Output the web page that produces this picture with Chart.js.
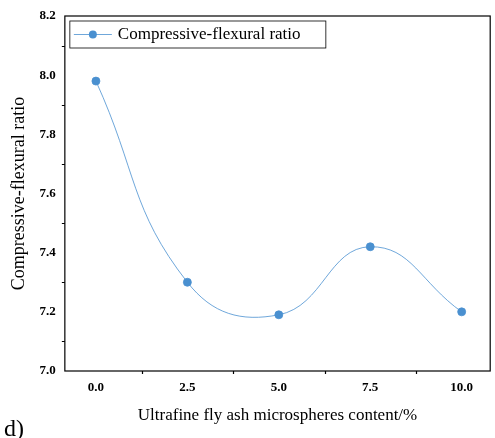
<!DOCTYPE html>
<html>
<head>
<meta charset="utf-8">
<script src="https://cdn.jsdelivr.net/npm/chart.js@4"></script>
<style>
html,body{margin:0;padding:0;background:#fff;}
#wrap{position:relative;width:495px;height:438px;}
</style>
</head>
<body>
<div id="wrap"><canvas id="c" width="495" height="438"></canvas></div>
<script>
// data
var contents = [0, 2.5, 5, 7.5, 10];
var ratios = [7.98, 7.30, 7.19, 7.42, 7.20];
var xTicks = [0, 2.5, 5, 7.5, 10];
var seriesName = 'Compressive-flexural ratio';

var FONT = '"Liberation Serif", "Times New Roman", serif';
var BLUE = '#4a90d0';

// minor ticks, box frame, legend, panel letter
var extras = {
    id: 'extras',
    afterDraw: function(chart){
        var ctx = chart.ctx, a = chart.chartArea;
        var xs = chart.scales.x, ys = chart.scales.y;
        ctx.save();
        ctx.strokeStyle = '#000';
        ctx.lineWidth = 1.2;
        ctx.strokeRect(a.left, a.top, a.right - a.left, a.bottom - a.top);
        ctx.beginPath();
        for (var v = 7.1; v < 8.2; v += 0.2) {
            var py = Math.round(ys.getPixelForValue(v)) + 0.5;
            ctx.moveTo(a.left, py); ctx.lineTo(a.left - 3, py);
        }
        for (var u = 1.25; u < 10; u += 2.5) {
            var px = Math.round(xs.getPixelForValue(u)) + 0.5;
            ctx.moveTo(px, a.bottom); ctx.lineTo(px, a.bottom + 3);
        }
        ctx.stroke();
        // legend
        ctx.lineWidth = 0.8;
        ctx.strokeStyle = '#000';
        ctx.strokeRect(a.left + 5, a.top + 5, 256, 27);
        ctx.strokeStyle = BLUE;
        ctx.beginPath();
        ctx.moveTo(a.left + 9, a.top + 18.5); ctx.lineTo(a.left + 47, a.top + 18.5);
        ctx.stroke();
        ctx.fillStyle = BLUE;
        ctx.beginPath(); ctx.arc(a.left + 28, a.top + 18.5, 4, 0, Math.PI * 2); ctx.fill();
        ctx.fillStyle = '#000';
        ctx.font = '17px ' + FONT;
        ctx.textBaseline = 'middle';
        ctx.fillText(seriesName, a.left + 53, a.top + 19);
        ctx.font = '24px ' + FONT;
        ctx.textBaseline = 'alphabetic';
        ctx.fillText('d)', 4, 436);
        ctx.restore();
    }
};

new Chart(document.getElementById('c'), {
    type: 'line',
    data: {
        datasets: [{
            label: seriesName,
            data: contents.map(function(x, i){ return {x: x, y: ratios[i]}; }),
            borderColor: BLUE,
            backgroundColor: BLUE,
            borderWidth: 0.8,
            pointRadius: 4,
            pointHoverRadius: 4,
            tension: 0.45
        }]
    },
    options: {
        responsive: false,
        animation: false,
        layout: {padding: {left: 4, right: 2, top: 16, bottom: 12}},
        plugins: {legend: {display: false}, tooltip: {enabled: false}},
        scales: {
            x: {
                type: 'linear', min: -0.85, max: 10.78,
                afterBuildTicks: function(s){ s.ticks = xTicks.map(function(v){ return {value: v}; }); },
                grid: {display: false, drawTicks: true, tickLength: 5, tickColor: '#000'},
                border: {display: false},
                ticks: {color: '#000', font: {family: FONT, size: 13, weight: 'bold'}, padding: 4,
                    callback: function(v){ return v.toFixed(1); }},
                title: {display: true, text: 'Ultrafine fly ash microspheres content/%', color: '#000',
                    font: {family: FONT, size: 17}, padding: {top: 6, bottom: 0}}
            },
            y: {
                min: 7.0, max: 8.2,
                grid: {display: false, tickLength: 5, tickColor: '#000'},
                border: {display: false},
                ticks: {stepSize: 0.2, color: '#000', font: {family: FONT, size: 13, weight: 'bold'}, padding: 4,
                    callback: function(v){ return v.toFixed(1); }},
                title: {display: true, text: 'Compressive-flexural ratio', color: '#000',
                    font: {family: FONT, size: 18}, padding: {bottom: 6}}
            }
        }
    },
    plugins: [extras]
});
</script>
</body>
</html>
